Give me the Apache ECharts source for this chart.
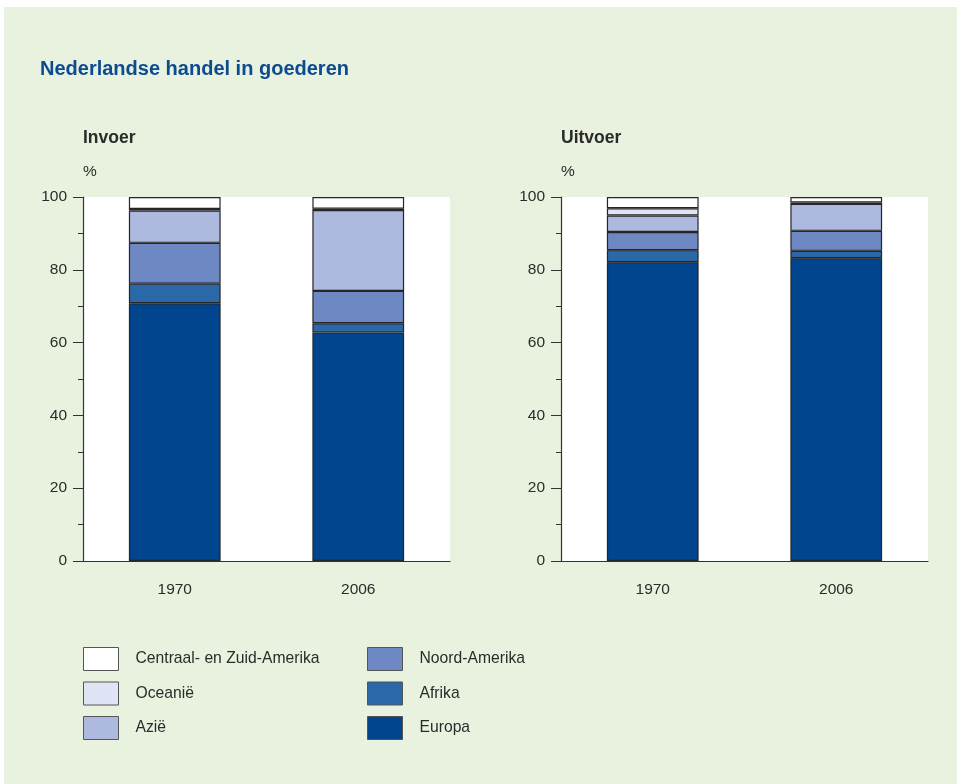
<!DOCTYPE html>
<html>
<head>
<meta charset="utf-8">
<script src="https://cdn.jsdelivr.net/npm/echarts@6/dist/echarts.min.js"></script>
<style>
  html, body { margin: 0; padding: 0; background: #ffffff; }
  #chart { width: 957px; height: 784px; }
</style>
</head>
<body>
<div id="chart"></div>
<script>
// Aandeel per herkomst/bestemming (%)
const years = ['1970', '2006'];
const regions = ['Europa', 'Afrika', 'Noord-Amerika', 'Azië', 'Oceanië', 'Centraal- en Zuid-Amerika'];
const regionColors = ['#00458e', '#2b68a8', '#6e88c4', '#adb9de', '#dfe5f4', '#ffffff'];

// Invoer, per regio: [1970, 2006]
const invoerEuropa = [70.8, 62.8];
const invoerAfrika = [5.4, 2.5];
const invoerNoordAmerika = [11.2, 8.9];
const invoerAzie = [8.9, 22.2];
const invoerOceanie = [0.4, 0.4];
const invoerZuidAmerika = [3.3, 3.2];

// Uitvoer, per regio: [1970, 2006]
const uitvoerEuropa = [82.1, 83.2];
const uitvoerAfrika = [3.3, 2.0];
const uitvoerNoordAmerika = [5.0, 5.5];
const uitvoerAzie = [4.5, 7.4];
const uitvoerOceanie = [2.0, 0.4];
const uitvoerZuidAmerika = [3.1, 1.5];

const yTicks = [0, 20, 40, 60, 80, 100];

const invoer = [invoerEuropa, invoerAfrika, invoerNoordAmerika, invoerAzie, invoerOceanie, invoerZuidAmerika];
const uitvoer = [uitvoerEuropa, uitvoerAfrika, uitvoerNoordAmerika, uitvoerAzie, uitvoerOceanie, uitvoerZuidAmerika];

const font = 'Liberation Sans, Arial, sans-serif';
const textColor = '#2b2b2b';

function makeXAxis(gridIndex) {
  return {
    type: 'category', gridIndex, data: years,
    axisLine: { show: true, lineStyle: { color: '#333', width: 1.2 } },
    axisTick: { show: false },
    axisLabel: { color: textColor, fontSize: 15.5, fontFamily: font, margin: 21 }
  };
}
function makeYAxis(gridIndex) {
  return {
    type: 'value', gridIndex, min: 0, max: 100, interval: 20,
    axisLine: { show: true, lineStyle: { color: '#333', width: 1.2 } },
    axisTick: { show: true, length: 10, lineStyle: { color: '#333' } },
    minorTick: { show: true, splitNumber: 2, length: 5, lineStyle: { color: '#333' } },
    splitLine: { show: false },
    axisLabel: {
      color: textColor, fontSize: 15.5, fontFamily: font, margin: 16,
      formatter: v => yTicks.includes(v) ? String(v) : ''
    }
  };
}

const series = [];
[invoer, uitvoer].forEach((set, gi) => {
  set.forEach((vals, ri) => {
    series.push({
      name: regions[ri],
      type: 'bar',
      stack: 'handel' + gi,
      xAxisIndex: gi, yAxisIndex: gi,
      barWidth: '50%',
      data: vals,
      itemStyle: { color: regionColors[ri], borderColor: '#262626', borderWidth: 1.2 },
      emphasis: { disabled: true }
    });
  });
});

const legendCommon = {
  orient: 'vertical',
  padding: 0,
  itemWidth: 35, itemHeight: 23, itemGap: 10.5,
  icon: 'rect',
  selectedMode: false,
  itemStyle: { borderColor: '#555', borderWidth: 1 },
  textStyle: { color: textColor, fontSize: 15.7, fontFamily: font, padding: [0, 0, 0, 12] }
};

const option = {
  backgroundColor: '#ffffff',
  animation: false,
  graphic: [{
    type: 'rect', z: -10,
    shape: { x: 4, y: 7, width: 953, height: 777 },
    style: { fill: '#e8f2de' }
  }],
  title: [
    { text: 'Nederlandse handel in goederen', left: 40, top: 59, padding: 0,
      textStyle: { color: '#0b4b92', fontSize: 20, fontWeight: 'bold', fontFamily: font } },
    { text: 'Invoer', left: 83, top: 129, padding: 0,
      textStyle: { color: textColor, fontSize: 17.5, fontWeight: 'bold', fontFamily: font } },
    { text: '%', left: 83, top: 164, padding: 0,
      textStyle: { color: textColor, fontSize: 15.5, fontWeight: 'normal', fontFamily: font } },
    { text: 'Uitvoer', left: 561, top: 129, padding: 0,
      textStyle: { color: textColor, fontSize: 17.5, fontWeight: 'bold', fontFamily: font } },
    { text: '%', left: 561, top: 164, padding: 0,
      textStyle: { color: textColor, fontSize: 15.5, fontWeight: 'normal', fontFamily: font } }
  ],
  grid: [
    { left: 83, top: 197, width: 367, height: 364, show: true, backgroundColor: '#ffffff', borderWidth: 0 },
    { left: 561, top: 197, width: 367, height: 364, show: true, backgroundColor: '#ffffff', borderWidth: 0 }
  ],
  xAxis: [makeXAxis(0), makeXAxis(1)],
  yAxis: [makeYAxis(0), makeYAxis(1)],
  legend: [
    Object.assign({}, legendCommon, {
      left: 83, top: 647,
      data: ['Centraal- en Zuid-Amerika', 'Oceanië', 'Azië']
    }),
    Object.assign({}, legendCommon, {
      left: 367, top: 647,
      data: ['Noord-Amerika', 'Afrika', 'Europa']
    })
  ],
  series
};

const chart = echarts.init(document.getElementById('chart'), null, { renderer: 'canvas' });
chart.setOption(option);
</script>
</body>
</html>
